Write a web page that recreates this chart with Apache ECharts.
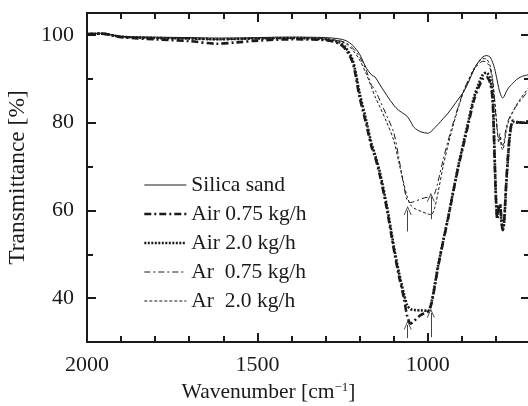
<!DOCTYPE html>
<html>
<head>
<meta charset="UTF-8">
<title>FTIR</title>
<script src="https://cdn.jsdelivr.net/npm/echarts@6/dist/echarts.min.js"></script>
<style>
  html, body { margin: 0; padding: 0; background: #fff; }
  #main { width: 528px; height: 406px; }
</style>
</head>
<body>
<div id="main"></div>
<script>
// wavenumber [cm-1]
var wavenumbers = [2000, 1960, 1900, 1800, 1700, 1620, 1560, 1500, 1400, 1300, 1260, 1240, 1220, 1200, 1180, 1165, 1155, 1140, 1120, 1100, 1085, 1070, 1060, 1050, 1040, 1020, 1000, 990, 980, 970, 955, 940, 925, 910, 895, 880, 865, 850, 838, 828, 818, 810, 804, 800, 796, 792, 788, 784, 780, 776, 770, 764, 758, 750, 740, 725, 700];

// transmittance [%]
var silicaSand = [100.2, 100.4, 99.7, 99.5, 99.4, 99.3, 99.3, 99.4, 99.5, 99.4, 99.1, 98.7, 97.6, 95.6, 92.4, 90.9, 90.4, 88.6, 86.2, 84.0, 82.8, 82.0, 81.4, 80.2, 78.9, 77.9, 77.6, 78.0, 78.8, 79.6, 80.9, 82.2, 83.8, 85.4, 87.0, 89.3, 92.0, 94.0, 95.0, 95.3, 95.0, 93.8, 92.4, 91.0, 89.5, 88.0, 86.8, 86.0, 85.6, 86.0, 87.0, 87.8, 88.4, 89.0, 89.8, 90.5, 91.0];
var air075 = [100.2, 100.3, 99.5, 99.0, 98.6, 98.0, 98.3, 98.7, 99.0, 98.8, 98.0, 96.6, 93.6, 85.8, 79.5, 74.5, 72.3, 67.8, 60.3, 51.3, 45.2, 40.0, 35.8, 34.2, 34.8, 36.2, 36.9, 38.5, 42.5, 47.0, 52.8, 58.3, 64.3, 70.0, 75.0, 80.0, 85.0, 88.2, 90.0, 90.4, 89.3, 85.5, 72.0, 62.5, 58.0, 60.5, 61.5, 58.0, 55.5, 57.5, 66.0, 73.0, 78.0, 80.5, 80.2, 80.0, 80.5];
var air20 = [100.2, 100.3, 99.6, 99.3, 99.2, 99.0, 99.1, 99.2, 99.3, 99.0, 98.3, 97.0, 94.2, 86.8, 80.3, 75.2, 72.8, 68.5, 61.0, 52.0, 46.0, 41.0, 38.3, 37.5, 37.3, 37.2, 37.1, 38.8, 42.8, 47.3, 53.0, 58.5, 64.5, 70.3, 75.5, 80.6, 85.6, 89.0, 91.0, 91.4, 90.3, 86.5, 73.0, 63.5, 58.5, 61.0, 61.0, 57.5, 55.5, 57.0, 65.5, 72.5, 77.8, 80.2, 80.0, 80.0, 80.3];
var ar075 = [100.1, 100.3, 99.6, 99.3, 99.2, 99.0, 99.1, 99.2, 99.3, 99.1, 98.7, 98.2, 97.0, 95.0, 91.8, 88.5, 87.5, 85.0, 81.5, 77.8, 72.0, 65.5, 62.2, 61.8, 62.0, 62.6, 63.0, 63.0, 63.8, 66.5, 71.5, 76.0, 80.0, 83.8, 87.3, 89.8, 92.0, 93.4, 94.0, 93.8, 92.6, 89.5, 85.0, 81.5, 78.0, 76.5, 77.5, 75.5, 74.8, 76.0, 78.8, 80.5, 81.5, 82.6, 83.8, 85.3, 87.8];
var ar20 = [100.1, 100.2, 99.6, 99.3, 99.1, 98.9, 99.0, 99.1, 99.2, 99.0, 98.6, 98.0, 96.5, 94.3, 91.0, 88.0, 86.0, 83.5, 80.0, 76.0, 71.0, 66.0, 63.0, 61.2, 60.5, 59.8, 59.2, 59.0, 60.5, 64.0, 70.0, 75.0, 79.5, 83.5, 87.0, 89.8, 92.3, 93.9, 94.6, 94.5, 93.2, 90.0, 85.5, 82.0, 78.5, 75.5, 76.8, 74.5, 73.8, 75.0, 78.0, 80.0, 81.2, 82.5, 84.0, 85.8, 88.3];

var seriesNames = ['Silica sand', 'Air 0.75 kg/h', 'Air 2.0 kg/h', 'Ar  0.75 kg/h', 'Ar  2.0 kg/h'];

// arrows marking the band minima: [wavenumber, from, to]
var arrows = [[1059, 55.2, 60.0], [991, 58.0, 63.0], [1059, 30.9, 33.9], [991, 31.1, 36.6]];

var xMajor = [1000, 1500, 2000];
var yMajor = [40, 60, 80, 100];

function pairs(vals) {
  var out = [];
  for (var i = 0; i < wavenumbers.length; i++) out.push([wavenumbers[i], vals[i]]);
  return out;
}

var FONT = '"Liberation Serif", "DejaVu Serif", serif';
var INK = '#1a1a1a';

function plain(v) { return String(v); }

// every 100 a short tick; x labels only at the multiples of 500
function xAxisOf(pos, major, labels) {
  var ax = {
    type: 'value', position: pos, inverse: true, min: 700, max: 2000,
    axisLine: { show: true, onZero: false, lineStyle: { color: INK, width: 2 } },
    axisTick: { show: true, inside: true, length: 6, lineStyle: { color: INK, width: 2 } },
    axisLabel: { show: false },
    splitLine: { show: false }
  };
  if (major) {
    ax.axisTick.customValues = xMajor;
    ax.axisTick.length = 9;
  } else {
    ax.interval = 100;
  }
  if (labels) {
    ax.axisLabel = {
      show: true, margin: 12, color: INK, fontFamily: FONT, fontSize: 22,
      formatter: function (v) { return v % 500 === 0 ? String(v) : ''; }
    };
  }
  return ax;
}
function yAxisOf(pos, major, labels) {
  var ax = {
    type: 'value', position: pos, min: 30, max: 105,
    axisLine: { show: true, onZero: false, lineStyle: { color: INK, width: 2 } },
    axisTick: { show: true, inside: true, length: 6, lineStyle: { color: INK, width: 2 } },
    axisLabel: { show: false },
    splitLine: { show: false }
  };
  if (major) {
    ax.axisTick.customValues = yMajor;
    ax.axisTick.length = 9;
  } else {
    ax.interval = 10;
  }
  if (labels) {
    ax.axisLabel = { show: true, customValues: yMajor, formatter: plain, margin: 13, color: INK, fontFamily: FONT, fontSize: 22 };
  }
  return ax;
}

var xAxes = [xAxisOf('bottom', false, true), xAxisOf('top', false, false),
             xAxisOf('bottom', true, false), xAxisOf('top', true, false)];
xAxes[0].name = '{a|Wavenumber [cm}{s|−1}{a|]}';
xAxes[0].nameLocation = 'middle';
xAxes[0].nameGap = 34;
xAxes[0].nameTextStyle = {
  padding: [0, 80, 0, 0],
  rich: {
    a: { fontFamily: FONT, fontSize: 21.5, color: INK },
    s: { fontFamily: FONT, fontSize: 13, color: INK, verticalAlign: 'top', padding: [0, 0, 8, 0] }
  }
};

var yAxes = [yAxisOf('left', true, true), yAxisOf('left', false, false),
             yAxisOf('right', true, false), yAxisOf('right', false, false)];
yAxes[0].name = 'Transmittance [%]';
yAxes[0].nameLocation = 'middle';
yAxes[0].nameGap = 54;
yAxes[0].nameTextStyle = { fontFamily: FONT, fontSize: 23.5, color: INK };

var styles = [
  { width: 1, type: 'solid' },
  { width: 2.6, type: [7, 3, 2, 3] },
  { width: 2.6, type: [2, 1.5] },
  { width: 1, type: [6, 3, 2, 3] },
  { width: 1, type: [3, 2] }
];
var values = [silicaSand, air075, air20, ar075, ar20];

var series = [];
var legendData = [];
for (var k = 0; k < values.length; k++) {
  series.push({
    name: seriesNames[k], type: 'line', data: pairs(values[k]),
    smooth: 0.3, symbol: 'none', silent: true,
    itemStyle: { color: INK },
    lineStyle: { color: INK, width: styles[k].width, type: styles[k].type }
  });
  legendData.push({
    name: seriesNames[k],
    itemStyle: { opacity: 0 },
    lineStyle: { color: INK, width: styles[k].width, type: styles[k].type }
  });
}

var arrowData = [];
for (var a = 0; a < arrows.length; a++) {
  arrowData.push([{ coord: [arrows[a][0], arrows[a][1]] }, { coord: [arrows[a][0], arrows[a][2]] }]);
}
series[0].markLine = {
  silent: true, animation: false,
  symbol: ['none', 'path://M0,10 L5,0 L10,10 L8.8,10 L5,2.4 L1.2,10 Z'],
  symbolSize: [8, 9],
  label: { show: false },
  lineStyle: { color: '#444', width: 1, type: 'solid' },
  data: arrowData
};

var myChart = echarts.init(document.getElementById('main'), null, { renderer: 'canvas' });
myChart.setOption({
  animation: false,
  backgroundColor: '#fff',
  grid: { left: 87, right: -2, top: 13, bottom: 64, outerBoundsMode: 'none' },
  legend: {
    data: legendData, orient: 'vertical', left: 143, top: 174, padding: 0,
    itemWidth: 42, itemHeight: 14, itemGap: 7,
    textStyle: { fontFamily: FONT, fontSize: 21.5, color: INK },
    inactiveColor: INK
  },
  xAxis: xAxes,
  yAxis: yAxes,
  series: series
});
</script>
</body>
</html>
